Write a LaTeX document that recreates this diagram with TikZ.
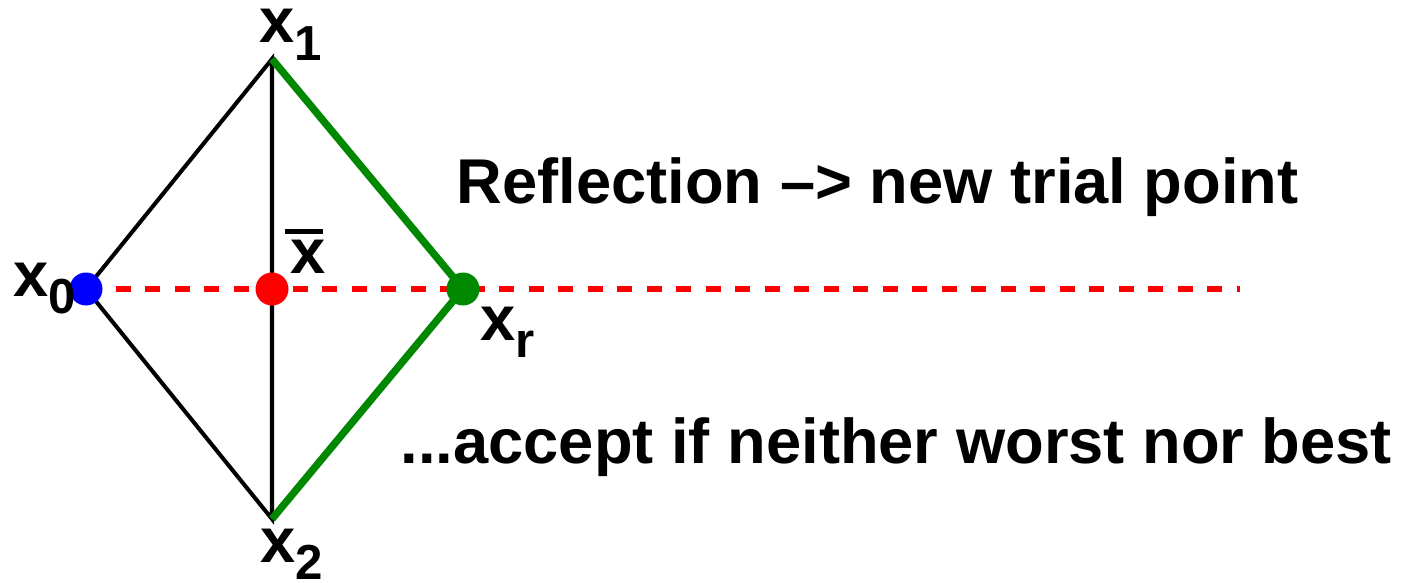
\documentclass[tikz,border=0pt]{standalone}
\usepackage{fontspec}
\setmainfont{Liberation Sans}
\usetikzlibrary{positioning}
\definecolor{ptgreen}{RGB}{0,136,0}
\newcommand{\xsub}[1]{x\raisebox{-5pt}{\fontsize{14pt}{14pt}\selectfont #1}}
\newcommand{\xmean}{\rlap{\hspace{-1.7pt}\rule[11.2pt]{11pt}{1.3pt}}x}

\begin{document}
\begin{tikzpicture}[dot/.style={circle,fill,inner sep=0pt,minimum size=3.3mm},edge/.style={line width=1.15pt},reflect/.style={ptgreen,line width=2.1pt},axis/.style={red,line width=1.45pt,dash pattern=on 1.5mm off 1.45mm},lbl/.style={font=\fontsize{18pt}{20pt}\selectfont\bfseries,inner sep=0pt,anchor=base west}]
    \useasboundingbox (0,0) rectangle (14.02,-5.83);
    \coordinate (x1) at (2.72,-0.59);
    \coordinate (x2) at (2.72,-5.19);
    \coordinate (x0) at (0.86,-2.89);
    \coordinate (xm) at (2.72,-2.89);
    \coordinate (xr) at (4.63,-2.89);
    \coordinate (xend) at (12.40,-2.89);
    % simplex and its reflection
    \draw[edge] (x0) -- (x1) -- (x2) -- cycle;
    \draw[reflect] (x1) -- (xr) -- (x2);
    \draw[axis] (x0) -- (xend);
    \node[dot,blue] (d0) at (x0) {};
    \node[dot,red] (dm) at (xm) {};
    \node[dot,ptgreen] (dr) at (xr) {};
    % labels
    \node[lbl] (l1) at (2.59,-0.43) {\xsub{1}};
    \node[lbl] (l0) at (0.13,-2.96) {\xsub{0}};
    \node[lbl] (l2) at (2.60,-5.62) {\xsub{2}};
    \node[lbl] (lr) at (4.80,-3.40) {\xsub{r}};
    \node[lbl] (lm) at (2.90,-2.73) {\xmean};
    \node[lbl] (t1) at (4.56,-2.03) {Reflection –> new trial point};
    \node[lbl] (t2) at (4.00,-4.63) {...accept if neither worst nor best};
\end{tikzpicture}
\end{document}
